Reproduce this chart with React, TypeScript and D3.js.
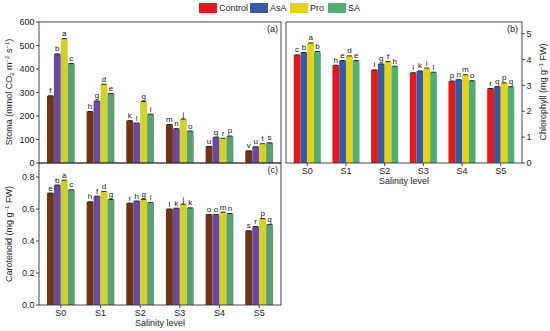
import React from 'react';
import * as d3 from 'd3';

const levels = ['S0', 'S1', 'S2', 'S3', 'S4', 'S5'];
const treatments = ['Control', 'AsA', 'Pro', 'SA'];

const legendColors = ['#e31a1c', '#3a5ba0', '#e2d21c', '#52ad70'];
const darkColors = ['#6e3516', '#6b4a9e', '#cfd22e', '#5e9e72'];

// stoma, one row per salinity level: Control, AsA, Pro, SA
const stoma = [
  [286, 464, 529, 423],
  [219, 264, 335, 296],
  [180, 170, 262, 208],
  [164, 146, 187, 136],
  [71, 110, 105, 115],
  [52, 69, 82, 86],
];
const stomaLetters = [
  ['f', 'b', 'a', 'c'],
  ['h', 'g', 'd', 'e'],
  ['k', 'l', 'g', 'i'],
  ['m', 'n', 'j', 'o'],
  ['u', 'q', 'r', 'p'],
  ['v', 'u', 't', 's'],
];

const chlorophyll = [
  [4.18, 4.27, 4.64, 4.31],
  [3.78, 3.96, 4.14, 3.96],
  [3.6, 3.83, 3.92, 3.74],
  [3.49, 3.56, 3.67, 3.51],
  [3.17, 3.22, 3.41, 3.18],
  [2.88, 2.95, 3.1, 2.95],
];
const chloroLetters = [
  ['c', 'b', 'a', 'b'],
  ['h', 'e', 'd', 'e'],
  ['i', 'g', 'f', 'h'],
  ['l', 'k', 'i', 'l'],
  ['p', 'n', 'm', 'o'],
  ['r', 'q', 'p', 'q'],
];

const carotenoid = [
  [0.7, 0.75, 0.78, 0.72],
  [0.645, 0.68, 0.71, 0.66],
  [0.637, 0.65, 0.66, 0.64],
  [0.6, 0.605, 0.63, 0.607],
  [0.566, 0.566, 0.58, 0.572],
  [0.464, 0.49, 0.54, 0.504],
];
const caroLetters = [
  ['e', 'b', 'a', 'c'],
  ['h', 'f', 'd', 'g'],
  ['i', 'h', 'g', 'i'],
  ['l', 'k', 'j', 'k'],
  ['o', 'o', 'm', 'n'],
  ['s', 'r', 'p', 'q'],
];

const stomaTicks = [0, 100, 200, 300, 400, 500, 600];
const chloroTicks = [0, 1, 2, 3, 4, 5];
const caroTicks = [0, 0.2, 0.4, 0.6, 0.8];

const FONT = 'Liberation Sans, Arial, sans-serif';

interface PanelProps {
  x0: number;
  x1: number;
  y0: number;
  y1: number;
  maxY: number;
  values: number[][];
  letters: string[][];
  ticks: number[];
  fmt: (v: number) => string;
  colors: string[];
  side: 'left' | 'right';
  tag: string;
  tagX: number;
  showX: boolean;
}

const Panel: React.FC<PanelProps> = (p) => {
  const x = d3.scaleBand<string>().domain(levels).range([p.x0, p.x1]).paddingInner(0.3).paddingOuter(0.2);
  const xi = d3.scaleBand<string>().domain(treatments).range([0, x.bandwidth()]).padding(0);
  const y = d3.scaleLinear().domain([0, p.maxY]).range([p.y1, p.y0]);
  const axisX = p.side === 'left' ? p.x0 : p.x1;
  const dir = p.side === 'left' ? -1 : 1;

  return (
    <g>
      {p.values.map((row, gi) =>
        row.map((v, ti) => {
          const bx = (x(levels[gi]) || 0) + (xi(treatments[ti]) || 0);
          const w = xi.bandwidth();
          const top = y(v);
          return (
            <g key={gi + '-' + ti}>
              <rect x={bx} y={top} width={w} height={p.y1 - top} fill={p.colors[ti]} />
              <line x1={bx + 1} x2={bx + w - 1} y1={top} y2={top} stroke="#222" strokeWidth={1} />
              <text x={bx + w / 2} y={top - 2.5} textAnchor="middle" fontSize={8} fontFamily={FONT} fill="#111">
                {p.letters[gi][ti]}
              </text>
            </g>
          );
        })
      )}
      <rect x={p.x0} y={p.y0} width={p.x1 - p.x0} height={p.y1 - p.y0} fill="none" stroke="#333" strokeWidth={0.9} />
      {p.ticks.map((t) => (
        <g key={t}>
          <line x1={axisX} x2={axisX + dir * 3} y1={y(t)} y2={y(t)} stroke="#333" strokeWidth={0.9} />
          <text
            x={axisX + dir * 4.5}
            y={y(t) + 3.2}
            textAnchor={p.side === 'left' ? 'end' : 'start'}
            fontSize={9}
            fontFamily={FONT}
            fill="#222"
          >
            {p.fmt(t)}
          </text>
        </g>
      ))}
      {p.showX &&
        levels.map((l) => {
          const cx = (x(l) || 0) + x.bandwidth() / 2;
          return (
            <g key={l}>
              <line x1={cx} x2={cx} y1={p.y1} y2={p.y1 + 3} stroke="#333" strokeWidth={0.9} />
              <text x={cx} y={p.y1 + 10.5} textAnchor="middle" fontSize={9} fontFamily={FONT} fill="#222">
                {l}
              </text>
            </g>
          );
        })}
      {p.showX && (
        <text x={(p.x0 + p.x1) / 2} y={p.y1 + 21} textAnchor="middle" fontSize={9} fontFamily={FONT} fill="#222">
          Salinity level
        </text>
      )}
      <text x={p.tagX} y={p.y0 + 10} textAnchor="end" fontSize={9} fontFamily={FONT} fill="#222">
        {p.tag}
      </text>
    </g>
  );
};

export default function App() {
  const legendX = [199, 250, 290, 328];
  return (
    <svg width={550} height={331} style={{ position: 'absolute', left: 0, top: 0, background: '#fff' }}>
      <rect width={550} height={331} fill="#fff" />
      {treatments.map((t, i) => (
        <g key={t}>
          <rect x={legendX[i]} y={3} width={18} height={10} fill={legendColors[i]} />
          <text x={legendX[i] + 20} y={11.3} fontSize={9} fontFamily={FONT} fill="#222">
            {t}
          </text>
        </g>
      ))}
      <Panel
        x0={39}
        x1={281}
        y0={22}
        y1={163}
        maxY={600}
        values={stoma}
        letters={stomaLetters}
        ticks={stomaTicks}
        fmt={(v) => String(v)}
        colors={darkColors}
        side="left"
        tag="(a)"
        tagX={278}
        showX={false}
      />
      <Panel
        x0={286}
        x1={522}
        y0={22}
        y1={163}
        maxY={5.45}
        values={chlorophyll}
        letters={chloroLetters}
        ticks={chloroTicks}
        fmt={(v) => String(v)}
        colors={legendColors}
        side="right"
        tag="(b)"
        tagX={518}
        showX={true}
      />
      <Panel
        x0={39}
        x1={281}
        y0={163}
        y1={305}
        maxY={0.8875}
        values={carotenoid}
        letters={caroLetters}
        ticks={caroTicks}
        fmt={(v) => v.toFixed(1)}
        colors={darkColors}
        side="left"
        tag="(c)"
        tagX={278}
        showX={true}
      />
      <text transform="translate(12,92) rotate(-90)" textAnchor="middle" fontSize={9} fontFamily={FONT} fill="#222">
        Stoma (mmol CO<tspan fontSize={6} dy={2}>2</tspan>
        <tspan dy={-2}> m</tspan>
        <tspan fontSize={6} dy={-3}>−2</tspan>
        <tspan dy={3}> s</tspan>
        <tspan fontSize={6} dy={-3}>−1</tspan>
        <tspan dy={3}>)</tspan>
      </text>
      <text transform="translate(12,234) rotate(-90)" textAnchor="middle" fontSize={9} fontFamily={FONT} fill="#222">
        Carotenoid (mg g<tspan fontSize={6} dy={-3}>−1</tspan>
        <tspan dy={3}> FW)</tspan>
      </text>
      <text transform="translate(546,92) rotate(-90)" textAnchor="middle" fontSize={9} fontFamily={FONT} fill="#222">
        Chlorophyll (mg g<tspan fontSize={6} dy={-3}>−1</tspan>
        <tspan dy={3}> FW)</tspan>
      </text>
    </svg>
  );
}
